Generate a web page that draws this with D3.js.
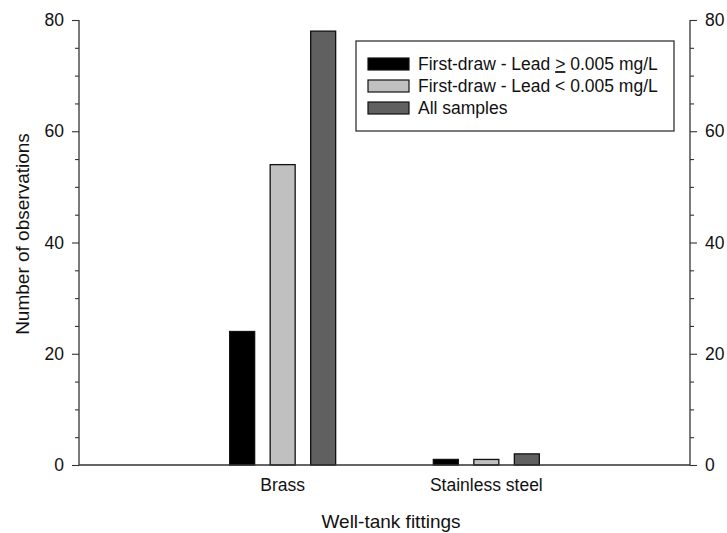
<!DOCTYPE html>
<html>
<head>
<meta charset="utf-8">
<script src="https://cdn.jsdelivr.net/npm/d3@7"></script>
<style>
  html, body { margin: 0; padding: 0; background: #fff; }
  text { font-family: "Liberation Sans", Arial, sans-serif; fill: #111; }
</style>
</head>
<body>
<svg id="chart" width="727" height="533"></svg>
<script>
const categories = ["Brass", "Stainless steel"];
const seriesNames = ["First-draw - Lead \u2265 0.005 mg/L", "First-draw - Lead < 0.005 mg/L", "All samples"];
const leadHigh = [24, 1];
const leadLow = [54, 1];
const allSamples = [78, 2];
const seriesColors = ["#000000", "#c0c0c0", "#606060"];
const yTicks = [0, 20, 40, 60, 80];
const yMinorTicks = [5, 10, 15, 25, 30, 35, 45, 50, 55, 65, 70, 75];

const values = [leadHigh, leadLow, allSamples];
const svg = d3.select("#chart");
const m = { left: 79, right: 690, top: 20, bottom: 465 };
const fs = 17.5;
const titleFs = 19;

const x0 = d3.scaleBand().domain(categories).range([m.left, m.right]).paddingInner(0).paddingOuter(0.5);
const x1 = d3.scaleBand().domain(d3.range(3)).range([-53, 53]).paddingInner(0.383).paddingOuter(0);
const y = d3.scaleLinear().domain([0, 80]).range([m.bottom, m.top]);

const axisColor = "#333";

// bars
categories.forEach((c, ci) => {
  const cx = x0(c) + x0.bandwidth() / 2;
  values.forEach((arr, si) => {
    svg.append("rect")
      .attr("x", cx + x1(si))
      .attr("y", y(arr[ci]))
      .attr("width", x1.bandwidth())
      .attr("height", y(0) - y(arr[ci]))
      .attr("fill", seriesColors[si])
      .attr("stroke", "#111")
      .attr("stroke-width", 1.3);
  });
});

// left axis
const gl = svg.append("g").attr("transform", `translate(${m.left},0)`)
  .call(d3.axisLeft(y).tickValues(yTicks).tickSize(7).tickPadding(8).tickFormat(d3.format("d")));
const glm = svg.append("g").attr("transform", `translate(${m.left},0)`)
  .call(d3.axisLeft(y).tickValues(yMinorTicks).tickSize(4).tickFormat(""));
glm.select(".domain").remove();

// right axis
const gr = svg.append("g").attr("transform", `translate(${m.right},0)`)
  .call(d3.axisRight(y).tickValues(yTicks).tickSize(7).tickPadding(8).tickFormat(d3.format("d")));
const grm = svg.append("g").attr("transform", `translate(${m.right},0)`)
  .call(d3.axisRight(y).tickValues(yMinorTicks).tickSize(4).tickFormat(""));
grm.select(".domain").remove();

// bottom axis
const gb = svg.append("g").attr("transform", `translate(0,${m.bottom})`)
  .call(d3.axisBottom(x0).tickSize(0).tickPadding(14));

[gl, glm, gr, grm, gb].forEach(g => {
  g.selectAll("path.domain").attr("stroke", axisColor).attr("stroke-width", 1.3);
  g.selectAll(".tick line").attr("stroke", axisColor).attr("stroke-width", 1.1);
  g.selectAll(".tick text").attr("font-size", fs).attr("fill", "#111")
    .attr("font-family", "'Liberation Sans', Arial, sans-serif");
});
[gl, gr].forEach(g => g.select(".domain").attr("d", `M0,${m.top}V${m.bottom}`));
gb.select(".domain").attr("d", `M${m.left},0H${m.right}`);
gb.selectAll(".tick text").attr("dy", "0.71em");

// axis titles
svg.append("text")
  .attr("transform", `translate(29,234) rotate(-90)`)
  .attr("text-anchor", "middle")
  .attr("font-size", titleFs)
  .text("Number of observations");
svg.append("text")
  .attr("x", 391).attr("y", 528)
  .attr("text-anchor", "middle")
  .attr("font-size", titleFs)
  .text("Well-tank fittings");

// legend
const lg = svg.append("g");
lg.append("rect").attr("x", 356).attr("y", 41).attr("width", 318).attr("height", 90)
  .attr("fill", "#fff").attr("stroke", axisColor).attr("stroke-width", 1.3);
const rowY = [64, 86, 108];
seriesNames.forEach((name, i) => {
  lg.append("rect").attr("x", 368).attr("y", rowY[i] - 6).attr("width", 41).attr("height", 12)
    .attr("fill", seriesColors[i]).attr("stroke", "#111").attr("stroke-width", 1.2);
  const t = lg.append("text").attr("x", 418).attr("y", rowY[i]).attr("dy", "0.35em").attr("font-size", fs);
  if (i === 0) {
    t.append("tspan").text("First-draw - Lead ");
    t.append("tspan").attr("text-decoration", "underline").text(">");
    t.append("tspan").text(" 0.005 mg/L");
  } else {
    t.text(name);
  }
});
</script>
</body>
</html>
